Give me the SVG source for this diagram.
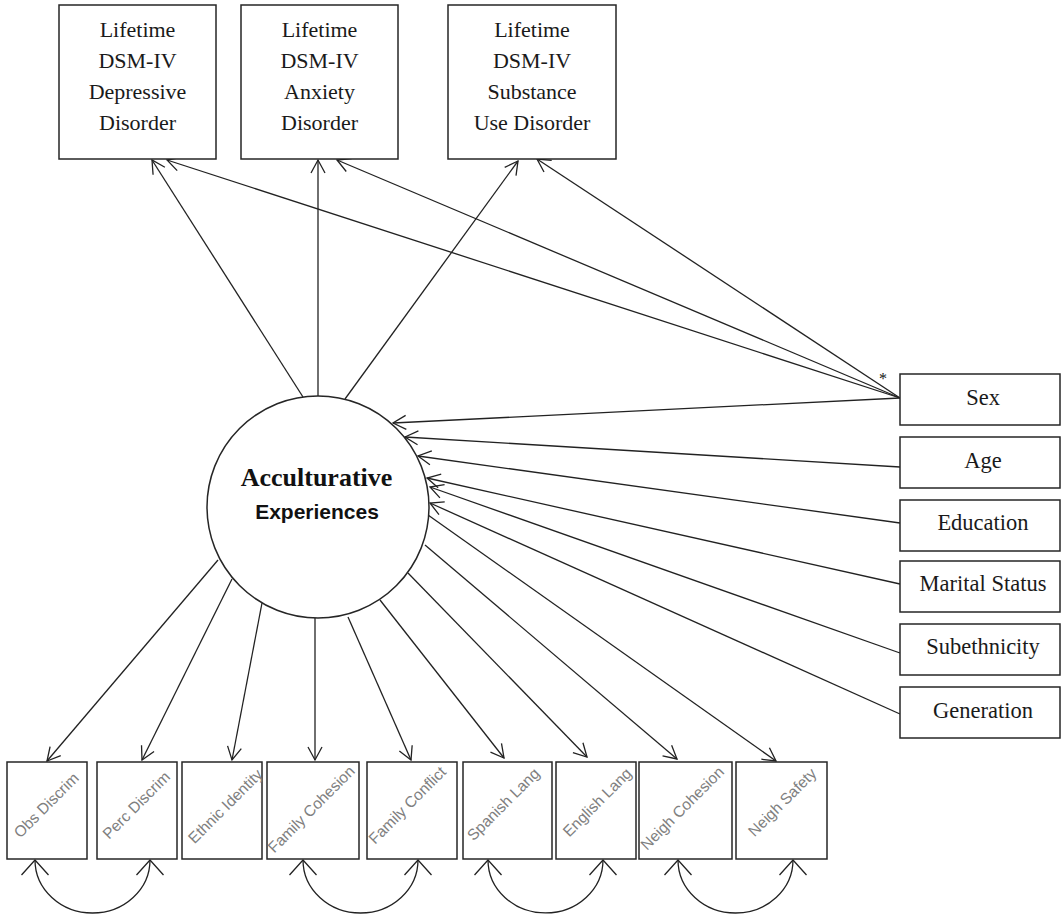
<svg xmlns="http://www.w3.org/2000/svg" width="1061" height="915" viewBox="0 0 1061 915">
<style>
.box{fill:#fff;stroke:#262626;stroke-width:1.5}
.ser{font-family:"Liberation Serif","Times New Roman",serif;fill:#1a1a1a;text-anchor:middle}
.t22{font-size:22px}
.r22{font-size:22.5px}
.ind{font-family:"Liberation Sans",Arial,sans-serif;font-size:15.5px;fill:#808080;text-anchor:middle}
.ln{fill:none;stroke:#222;stroke-width:1.3}
.arr{marker-end:url(#ah)}
.cov{fill:none;stroke:#222;stroke-width:1.3;marker-start:url(#ah2);marker-end:url(#ah2)}
</style>
<defs>
<marker id="ah" markerUnits="userSpaceOnUse" markerWidth="30" markerHeight="30" viewBox="-20 -15 25 30" refX="0" refY="0" orient="auto" overflow="visible">
<path d="M-13,-7 L0,0 L-13,7" fill="none" stroke="#222" stroke-width="1.3"/>
</marker>
<marker id="ah2" markerUnits="userSpaceOnUse" markerWidth="40" markerHeight="40" viewBox="-20 -20 25 40" refX="0" refY="0" orient="auto-start-reverse" overflow="visible">
<path d="M-15,-13.5 L0,0 L-15,13.5" fill="none" stroke="#222" stroke-width="1.3"/>
</marker>
</defs>
<rect width="1061" height="915" fill="#fff"/>

<g id="connectors">
<path class="ln arr" d="M303,397 L152,160"/>
<path class="ln arr" d="M318,397 L318,160"/>
<path class="ln arr" d="M345,399 L518,161"/>
<path class="ln arr" d="M900,398 L167,160"/>
<path class="ln arr" d="M900,398 L337,160"/>
<path class="ln arr" d="M900,398 L537,159"/>
<path class="ln arr" d="M900,398 L393,423"/>
<path class="ln arr" d="M900,467 L405,437"/>
<path class="ln arr" d="M900,523 L418,456"/>
<path class="ln arr" d="M900,584 L427,478"/>
<path class="ln arr" d="M900,653 L430,487"/>
<path class="ln arr" d="M900,714 L430,503"/>
<path class="ln arr" d="M218,560 L47,761"/>
<path class="ln arr" d="M232,579 L142,760"/>
<path class="ln arr" d="M262,603 L232,760"/>
<path class="ln arr" d="M315,617 L315,760"/>
<path class="ln arr" d="M348,617 L411,760"/>
<path class="ln arr" d="M380,600 L504,758"/>
<path class="ln arr" d="M408,573 L587,757"/>
<path class="ln arr" d="M425,545 L677,759"/>
<path class="ln arr" d="M428,515 L776,761"/>
<path class="cov" d="M35,860 A57.5,53 0 0 0 150,860"/>
<path class="cov" d="M303,860 A57.5,53 0 0 0 418,860"/>
<path class="cov" d="M488,860 A57.5,53 0 0 0 603,860"/>
<path class="cov" d="M678,860 A57.5,53 0 0 0 793,860"/>
<text x="883" y="384" font-family="'Liberation Serif','Times New Roman',serif" font-size="16" text-anchor="middle" fill="#111">*</text>
</g>

<g id="depressive">
<rect class="box" x="59" y="5" width="157" height="154"/>
<text class="ser t22" x="137.5" y="37">Lifetime</text>
<text class="ser t22" x="137.5" y="68">DSM-IV</text>
<text class="ser t22" x="137.5" y="99">Depressive</text>
<text class="ser t22" x="137.5" y="130">Disorder</text>
</g>
<g id="anxiety">
<rect class="box" x="241" y="5" width="157" height="154"/>
<text class="ser t22" x="319.5" y="37">Lifetime</text>
<text class="ser t22" x="319.5" y="68">DSM-IV</text>
<text class="ser t22" x="319.5" y="99">Anxiety</text>
<text class="ser t22" x="319.5" y="130">Disorder</text>
</g>
<g id="substance">
<rect class="box" x="448" y="5" width="168" height="154"/>
<text class="ser t22" x="532" y="37">Lifetime</text>
<text class="ser t22" x="532" y="68">DSM-IV</text>
<text class="ser t22" x="532" y="99">Substance</text>
<text class="ser t22" x="532" y="130">Use Disorder</text>
</g>

<g id="acculturative">
<circle cx="318" cy="507" r="111" fill="#fff" stroke="#262626" stroke-width="1.5"/>
<text x="316.5" y="486" font-family="'Liberation Serif','Times New Roman',serif" font-weight="bold" font-size="26" text-anchor="middle" fill="#111">Acculturative</text>
<text x="317" y="519" font-family="'Liberation Sans',Arial,sans-serif" font-weight="bold" font-size="21" text-anchor="middle" fill="#111">Experiences</text>
</g>

<g id="sex"><rect class="box" x="900" y="374" width="160" height="51"/><text class="ser r22" x="983" y="405">Sex</text></g>
<g id="age"><rect class="box" x="900" y="437" width="160" height="51"/><text class="ser r22" x="983" y="468">Age</text></g>
<g id="education"><rect class="box" x="900" y="500" width="160" height="51"/><text class="ser r22" x="983" y="530">Education</text></g>
<g id="marital"><rect class="box" x="900" y="561" width="160" height="51"/><text class="ser r22" x="983" y="591">Marital Status</text></g>
<g id="subethnicity"><rect class="box" x="900" y="624" width="160" height="51"/><text class="ser r22" x="983" y="654">Subethnicity</text></g>
<g id="generation"><rect class="box" x="900" y="687" width="160" height="51"/><text class="ser r22" x="983" y="718">Generation</text></g>

<g id="obs"><rect class="box" x="7" y="762" width="80" height="97"/><text class="ind" transform="translate(50,809) rotate(-45)">Obs Discrim</text></g>
<g id="perc"><rect class="box" x="97" y="762" width="80" height="97"/><text class="ind" transform="translate(140,809) rotate(-45)">Perc Discrim</text></g>
<g id="ethnic"><rect class="box" x="182" y="762" width="80" height="97"/><text class="ind" transform="translate(229,810) rotate(-45)">Ethnic Identity</text></g>
<g id="famcoh"><rect class="box" x="267" y="762" width="92" height="97"/><text class="ind" transform="translate(315,813) rotate(-45)">Family Cohesion</text></g>
<g id="famconf"><rect class="box" x="367" y="762" width="90" height="97"/><text class="ind" transform="translate(411,809) rotate(-45)">Family Conflict</text></g>
<g id="spanish"><rect class="box" x="463" y="762" width="89" height="97"/><text class="ind" transform="translate(507,808) rotate(-45)">Spanish Lang</text></g>
<g id="english"><rect class="box" x="556" y="762" width="80" height="97"/><text class="ind" transform="translate(601,806) rotate(-45)">English Lang</text></g>
<g id="neighcoh"><rect class="box" x="639" y="762" width="93" height="97"/><text class="ind" transform="translate(686,812) rotate(-45)">Neigh Cohesion</text></g>
<g id="neighsafe"><rect class="box" x="736" y="762" width="91" height="97"/><text class="ind" transform="translate(786,806) rotate(-45)">Neigh Safety</text></g>
</svg>
